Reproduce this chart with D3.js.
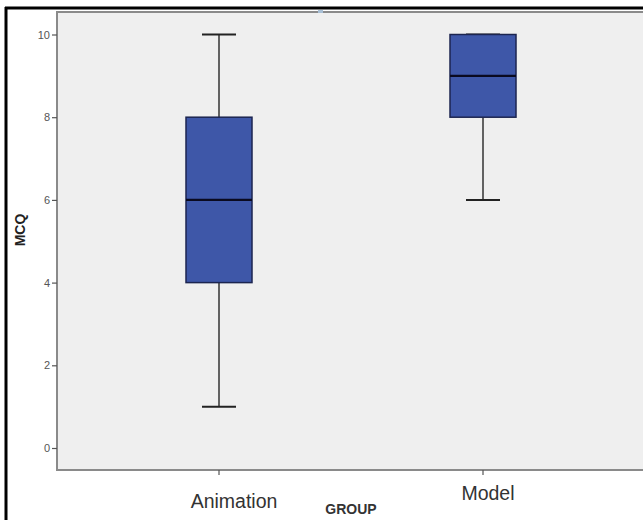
<!DOCTYPE html>
<html><head><meta charset="utf-8">
<script src="https://cdn.jsdelivr.net/npm/d3@7"></script>
<style>html,body{margin:0;padding:0;background:#fff;}svg{display:block;}</style>
</head><body>
<svg id="chart" width="643" height="520"></svg>
<script>
const categories = ["Animation", "Model"];
const minVals    = [1, 6];
const q1Vals     = [4, 8];
const medianVals = [6, 9];
const q3Vals     = [8, 10];
const maxVals    = [10, 10];
const yTicks     = [0, 2, 4, 6, 8, 10];

const svg = d3.select("#chart");
const plot = {left: 57, top: 12, right: 645, bottom: 470};

const y = d3.scaleLinear().domain([0, 10]).range([448, 34.5]);
const x = d3.scaleBand().domain(categories).range([87, 615]).paddingInner(0).paddingOuter(0);
const boxW = 66, capW = 34;

// outer frame lines
svg.append("line").attr("x1", 6).attr("x2", 6).attr("y1", 7).attr("y2", 520)
  .attr("stroke", "#000").attr("stroke-width", 3);
svg.append("line").attr("x1", 5).attr("x2", 643).attr("y1", 8).attr("y2", 8)
  .attr("stroke", "#000").attr("stroke-width", 3);

// plot background
svg.append("rect").attr("x", plot.left).attr("y", plot.top)
  .attr("width", plot.right - plot.left).attr("height", plot.bottom - plot.top)
  .attr("fill", "#efefef").attr("stroke", "#8a8a8a").attr("stroke-width", 2);

// small mark at top
svg.append("rect").attr("x", 318).attr("y", 10).attr("width", 5).attr("height", 3).attr("fill", "#a9c0d6");

// y axis
const yAxis = d3.axisLeft(y).tickValues(yTicks).tickSize(5).tickPadding(2).tickFormat(d3.format("d"));
const ga = svg.append("g").attr("transform", `translate(${plot.left},0)`).call(yAxis);
ga.select(".domain").remove();
ga.selectAll(".tick line").attr("stroke", "#555").attr("stroke-width", 1.2);
ga.selectAll(".tick text").attr("fill", "#555").attr("font-size", 11)
  .attr("font-family", "Liberation Sans, Arial, sans-serif");

// x axis ticks
const xAxis = d3.axisBottom(x).tickSize(5).tickFormat("");
const gx = svg.append("g").attr("transform", `translate(0,${plot.bottom})`).call(xAxis);
gx.select(".domain").remove();
gx.selectAll(".tick line").attr("stroke", "#555").attr("stroke-width", 1.2);

// boxes
categories.forEach((c, i) => {
  const cx = x(c) + x.bandwidth() / 2;
  const g = svg.append("g");
  // whiskers
  g.append("line").attr("x1", cx).attr("x2", cx).attr("y1", y(maxVals[i])).attr("y2", y(q3Vals[i]))
    .attr("stroke", "#333").attr("stroke-width", 1.5);
  g.append("line").attr("x1", cx).attr("x2", cx).attr("y1", y(q1Vals[i])).attr("y2", y(minVals[i]))
    .attr("stroke", "#333").attr("stroke-width", 1.5);
  g.append("line").attr("x1", cx - capW/2).attr("x2", cx + capW/2).attr("y1", y(maxVals[i])).attr("y2", y(maxVals[i]))
    .attr("stroke", "#222").attr("stroke-width", 2);
  g.append("line").attr("x1", cx - capW/2).attr("x2", cx + capW/2).attr("y1", y(minVals[i])).attr("y2", y(minVals[i]))
    .attr("stroke", "#222").attr("stroke-width", 2);
  // box
  g.append("rect").attr("x", cx - boxW/2).attr("y", y(q3Vals[i]))
    .attr("width", boxW).attr("height", y(q1Vals[i]) - y(q3Vals[i]))
    .attr("fill", "#3e57a8").attr("stroke", "#1c2550").attr("stroke-width", 1.5);
  // median
  g.append("line").attr("x1", cx - boxW/2).attr("x2", cx + boxW/2).attr("y1", y(medianVals[i])).attr("y2", y(medianVals[i]))
    .attr("stroke", "#0a0a20").attr("stroke-width", 2.2);
});

// category labels (as in reference, offset)
const labelPos = [{dx: 15, y: 508}, {dx: 5, y: 500}];
categories.forEach((c, i) => {
  svg.append("text").attr("x", x(c) + x.bandwidth()/2 + labelPos[i].dx).attr("y", labelPos[i].y)
    .attr("text-anchor", "middle").attr("font-size", 19.5).attr("fill", "#333")
    .attr("font-family", "Liberation Sans, Arial, sans-serif").text(c);
});

svg.append("text").attr("x", 351).attr("y", 514).attr("text-anchor", "middle")
  .attr("font-size", 14).attr("font-weight", "bold").attr("fill", "#333")
  .attr("font-family", "Liberation Sans, Arial, sans-serif").text("GROUP");

svg.append("text").attr("transform", "translate(25,230) rotate(-90)").attr("text-anchor", "middle")
  .attr("font-size", 14).attr("font-weight", "bold").attr("fill", "#222")
  .attr("font-family", "Liberation Sans, Arial, sans-serif").text("MCQ");
</script>
</body></html>
